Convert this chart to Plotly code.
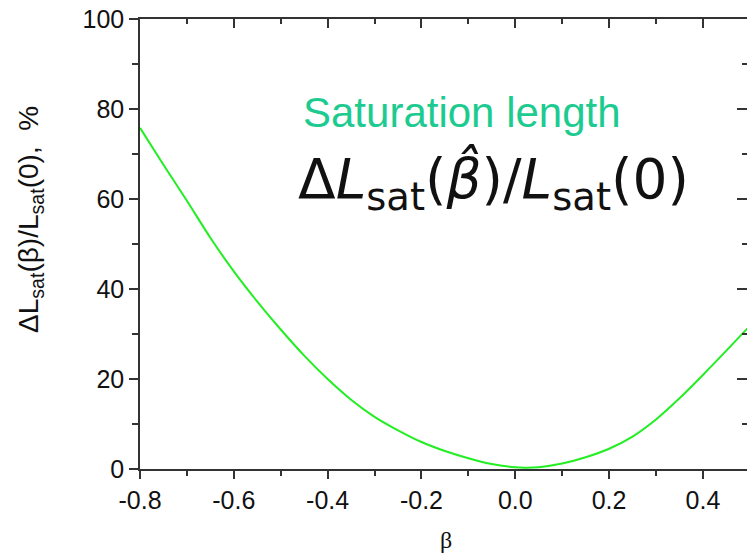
import plotly.graph_objects as go

beta = [-0.80, -0.75, -0.70, -0.65, -0.60, -0.55, -0.50, -0.45, -0.40, -0.35,
        -0.30, -0.25, -0.20, -0.15, -0.10, -0.05, 0.00, 0.02, 0.05, 0.10,
        0.15, 0.20, 0.25, 0.30, 0.35, 0.40, 0.45, 0.50]
dL = [75.8, 67.6, 59.6, 51.4, 43.9, 37.2, 31.0, 25.2, 20.0, 15.4,
      11.6, 8.6, 6.0, 4.0, 2.4, 1.1, 0.4, 0.3, 0.4, 1.2,
      2.6, 4.5, 7.2, 11.0, 15.7, 20.9, 26.3, 31.8]

x_ticks = [-0.8, -0.6, -0.4, -0.2, 0.0, 0.2, 0.4]
x_ticklabels = ["-0.8", "-0.6", "-0.4", "-0.2", "0.0", "0.2", "0.4"]
y_ticks = [0, 20, 40, 60, 80, 100]

W, H = 747, 555
L, R, T, B = 140, 0, 19, 86
xr = [-0.8, 0.494]
yr = [0, 100]

fig = go.Figure()
fig.add_trace(go.Scatter(x=beta, y=dL, mode="lines",
                         line=dict(color="#22ee22", width=2, shape="spline", smoothing=0.8),
                         showlegend=False, hoverinfo="skip"))
# invisible trace to anchor mirrored axes
fig.add_trace(go.Scatter(x=[beta[0]], y=[dL[0]], xaxis="x2", yaxis="y2",
                         mode="markers", marker=dict(opacity=0), showlegend=False,
                         hoverinfo="skip"))

tickfont = dict(family="Liberation Sans, Arial", size=25, color="#111")
axcol = "#333"

fig.update_layout(
    width=W, height=H,
    margin=dict(l=L, r=R, t=T, b=B),
    paper_bgcolor="white", plot_bgcolor="white",
    xaxis=dict(range=xr, tickvals=x_ticks, ticktext=x_ticklabels,
               showgrid=False, zeroline=False, showline=True, linecolor=axcol,
               linewidth=1.5, ticks="outside", ticklen=8, tickwidth=1.5,
               tickcolor=axcol, tickfont=tickfont,
               minor=dict(dtick=0.1, tick0=-0.8, ticks="outside", ticklen=5,
                          tickwidth=1.5, tickcolor=axcol)),
    yaxis=dict(range=yr, tickvals=y_ticks, showgrid=False, zeroline=False,
               showline=True, linecolor=axcol, linewidth=1.5, ticks="outside",
               ticklen=9, tickwidth=1.5, tickcolor=axcol, tickfont=tickfont,
               minor=dict(dtick=10, tick0=0, ticks="outside", ticklen=6,
                          tickwidth=1.5, tickcolor=axcol)),
    xaxis2=dict(range=xr, overlaying="x", side="top", anchor="y",
                tickvals=x_ticks, showticklabels=False, showgrid=False,
                zeroline=False, showline=True, linecolor=axcol, linewidth=1.5,
                ticks="inside", ticklen=9, tickwidth=1.5, tickcolor=axcol,
                minor=dict(dtick=0.1, tick0=-0.8, ticks="inside", ticklen=5,
                           tickwidth=1.5, tickcolor=axcol)),
    yaxis2=dict(range=yr, overlaying="y", side="right", anchor="x",
                tickvals=y_ticks, showticklabels=False, showgrid=False,
                zeroline=False, showline=False,
                ticks="inside", ticklen=10, tickwidth=1.5, tickcolor=axcol,
                minor=dict(dtick=10, tick0=0, ticks="inside", ticklen=5,
                           tickwidth=1.5, tickcolor=axcol)),
)

pw = W - L - R
ph = H - T - B
def px(x):
    return (x - L) / pw
def py(y):
    return (H - B - y) / ph

fig.add_annotation(text="Saturation length", xref="paper", yref="paper",
                   x=px(301), y=py(112), xanchor="left", yanchor="middle",
                   showarrow=False,
                   font=dict(family="Liberation Sans, Arial", size=42, color="#1dcb90"))
fig.add_annotation(text="Δ<i>L</i><sub>sat</sub>(<i>β̂</i>)/<i>L</i><sub>sat</sub>(0)",
                   xref="paper", yref="paper",
                   x=px(296), y=py(181), xanchor="left", yanchor="middle",
                   showarrow=False,
                   font=dict(family="DejaVu Sans", size=55, color="#111"))
fig.add_annotation(text="ΔL<sub>sat</sub>(β)/L<sub>sat</sub>(0),  %",
                   xref="paper", yref="paper", x=px(30), y=py(220),
                   xanchor="center", yanchor="middle", textangle=-90,
                   showarrow=False,
                   font=dict(family="Liberation Sans, Arial", size=28, color="#111"))
fig.add_annotation(text="β", xref="paper", yref="paper", x=px(446), y=py(540),
                   xanchor="center", yanchor="middle", showarrow=False,
                   font=dict(family="Liberation Serif, DejaVu Serif", size=24, color="#111"))

fig.write_html("out.html")
